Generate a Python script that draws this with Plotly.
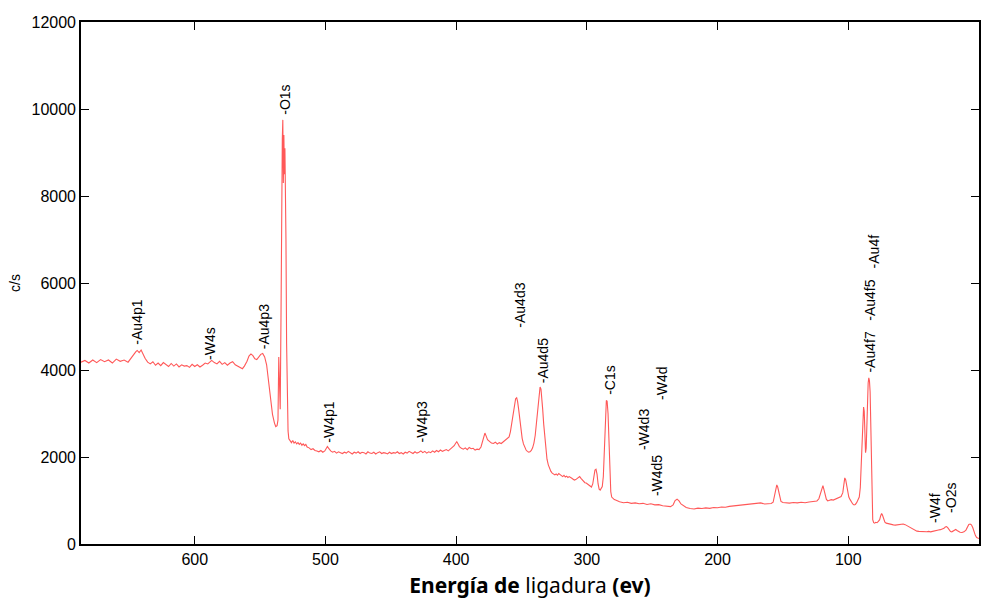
import plotly.graph_objects as go

# ---- Spectrum values, split in segments (binding energy eV / counts c/s) ----
be_a = [687, 684, 681, 678, 675, 672, 669, 666, 663, 660,
        657, 654, 651, 649, 647, 645, 644, 642.5, 641, 639.5,
        638, 636, 634, 632, 630, 628, 626, 624, 622, 620,
        618, 616, 614, 612, 610, 608, 606, 604, 602, 600]
cps_a = [4180, 4220, 4160, 4230, 4170, 4240, 4190, 4230, 4160, 4250,
         4200, 4230, 4180, 4270, 4360, 4420, 4450, 4400, 4460, 4350,
         4270, 4180, 4140, 4190, 4110, 4160, 4100, 4170, 4120, 4080,
         4150, 4090, 4140, 4070, 4120, 4090, 4100, 4060, 4130, 4080]

be_b = [598, 596, 594, 592, 590, 588.5, 587, 585, 583, 581,
        579, 577, 575, 573, 571, 569, 567, 565, 563.5, 562,
        560, 558.5, 557, 555.5, 554, 552.5, 551, 549.5, 548, 546.5,
        545, 543.5, 542, 540.5, 539, 538, 537, 536.3, 535.7, 535.1]
cps_b = [4120, 4070, 4110, 4160, 4140, 4190, 4220, 4170, 4140, 4200,
         4130, 4170, 4110, 4160, 4190, 4120, 4080, 4040, 4030, 4090,
         4200, 4320, 4370, 4330, 4260, 4240, 4300, 4360, 4380, 4300,
         4120, 3720, 3300, 2980, 2780, 2700, 2720, 2850, 4300, 3500]

be_c = [534.6, 534, 533.5, 533, 532.6, 532.2, 531.8, 531.4, 531, 530.6,
        530.2, 529.7, 529.2, 528.6, 528, 527, 526, 525, 524, 523,
        522, 521, 520]
cps_c = [3100, 5200, 8600, 9300, 9750, 8300, 9400, 8500, 9100, 8400,
         7000, 4600, 3100, 2600, 2420, 2360, 2330, 2380, 2320, 2350,
         2300, 2330, 2290]

be_d = [519, 518, 517, 516, 515, 514, 512.5, 511, 509.5, 508,
        506.5, 505, 503.5, 502, 500.5, 499.5, 498.5, 497.5, 496, 494.5,
        493, 491.5, 490, 488.5, 487, 485.5, 484, 482.5, 481, 479.5,
        478, 476.5, 475, 473.5, 472, 470.5, 469, 467.5, 466, 464.5,
        463, 461.5, 460, 458.5, 457, 455.5, 454, 452.5, 451, 449.5,
        448, 446.5, 445, 443.5, 442, 440.5, 439, 437.5, 436, 434.5,
        433, 431.5, 430, 428.5, 427, 425.5, 424, 422.5, 421, 419.5,
        418, 416.5, 415, 413.5, 412, 410.5, 409, 407.5, 406, 404.5,
        403, 401.5, 400.5]
cps_d = [2320, 2270, 2300, 2260, 2290, 2230, 2210, 2170, 2190, 2150,
         2140, 2120, 2150, 2110, 2140, 2180, 2240, 2200, 2140, 2110,
         2130, 2090, 2120, 2100, 2080, 2110, 2090, 2130, 2100, 2070,
         2110, 2090, 2120, 2080, 2110, 2100, 2070, 2120, 2090, 2080,
         2110, 2070, 2100, 2120, 2080, 2100, 2090, 2070, 2110, 2080,
         2100, 2090, 2120, 2080, 2100, 2070, 2110, 2090, 2130, 2100,
         2080, 2120, 2090, 2110, 2140, 2100, 2130, 2090, 2120, 2100,
         2140, 2110, 2150, 2120, 2160, 2130, 2150, 2170, 2140, 2180,
         2200, 2260, 2310]

be_e = [399.5, 398.5, 397.5, 396, 394.5, 393, 391.5, 390, 388.5, 387,
        385.5, 384, 382.5, 381, 380, 379, 378, 377, 376, 374.5,
        373, 371.5, 370, 368.5, 367, 365.5, 364, 362.5, 361, 359.5,
        358.5, 357.5, 356.5, 355.5, 354.5, 353.7, 353, 352.2, 351.4, 350.5,
        349.5, 348.5, 347.5, 346.5, 345.5, 344.5, 343.5, 342.5, 341.5, 340.5]
cps_e = [2350, 2300, 2240, 2200, 2180, 2210, 2170, 2220, 2190, 2200,
         2160, 2180, 2170, 2230, 2320, 2440, 2550, 2480, 2400, 2360,
         2320, 2310, 2340, 2300, 2330, 2310, 2350, 2380, 2420, 2460,
         2580, 2760, 3000, 3200, 3340, 3360, 3280, 3100, 2850, 2620,
         2430, 2300, 2220, 2160, 2130, 2110, 2120, 2150, 2210, 2320]

be_f = [339.5, 338.5, 337.5, 336.6, 335.8, 335.1, 334.5, 333.8, 333, 332.2,
        331.4, 330.5, 329.5, 328.5, 327.5, 326.5, 325.5, 324.5, 323.5, 322.5,
        321.5, 320.5, 319.5, 318.5, 317.5, 316.5, 315.5, 314.5, 313.5, 312.5,
        311.5, 310.5, 309.5, 308.5, 307.5, 306.5, 305.5, 304.5, 303.5, 302.5,
        301.5, 300.5, 299.5, 298.5, 297.5, 296.5, 295.5, 294.6, 293.8, 293,
        292.2, 291.4, 290.6, 289.8]
cps_f = [2500, 2800, 3150, 3450, 3610, 3560, 3380, 3100, 2750, 2420,
         2150, 1950, 1820, 1730, 1670, 1630, 1600, 1590, 1610, 1580,
         1620, 1600, 1560, 1550, 1580, 1540, 1560, 1530, 1550, 1520,
         1510, 1490, 1470, 1480, 1500, 1540, 1550, 1510, 1470, 1440,
         1410, 1400, 1380, 1350, 1320, 1310, 1380, 1550, 1700, 1720,
         1600, 1380, 1260, 1240]

be_g = [289, 288.2, 287.4, 286.6, 285.8, 285.1, 284.5, 283.8, 283.1, 282.4,
        281.7, 281, 280, 279, 278, 276.5]
cps_g = [1290, 1320, 1550, 2100, 2800, 3300, 3280, 3000, 2400, 1700,
         1200, 1080, 1040, 1020, 1010, 990]

be_h = [275, 272, 269, 266, 263, 260, 257, 254, 251, 248,
        245, 242, 239, 236, 234, 232.5, 231, 229.5, 228, 226,
        224, 221, 218, 215, 212, 209, 206, 203, 200, 197,
        194, 191, 188, 185, 182, 179, 176, 173, 170, 167,
        164, 161]
cps_h = [970, 950, 960, 935, 945, 925, 935, 910, 925, 900,
         905, 880, 870, 860, 900, 1000, 1030, 990, 920, 880,
         840, 815, 805, 825, 815, 830, 820, 840, 835, 850,
         845, 865, 875, 890, 905, 915, 925, 940, 935, 945,
         920, 920]

be_i = [159, 157.5, 156.5, 155.5, 154.7, 154, 153.2, 152.4, 151.5, 150,
        148, 145, 142, 139, 136, 133, 130, 127, 124, 122.5]
cps_i = [930, 960, 1120, 1290, 1360, 1310, 1180, 1040, 980, 955,
         950, 940, 955, 945, 960, 950, 965, 970, 990, 1040]

be_j = [121.3, 120.3, 119.4, 118.6, 117.7, 116.8, 115.8, 114.5, 113, 111.5,
        110, 108.5, 107, 105.5]
cps_j = [1180, 1300, 1340, 1250, 1120, 1030, 990, 1000, 1020, 1010,
         1030, 1040, 1060, 1090]

be_k = [104.2, 103.4, 102.7, 102, 101.3, 100.5, 99.6, 98.6, 97.6, 96.6,
        95.6, 94.6, 93.6, 92.6, 91.6]
cps_k = [1180, 1420, 1520, 1480, 1380, 1200, 1080, 1020, 960, 920,
         900, 910, 950, 1000, 1080]

be_l = [90.8, 90.1, 89.5, 88.9, 88.3, 87.8, 87.3, 86.8, 86.3, 85.8,
        85.3, 84.8, 84.3, 83.8, 83.3, 82.8, 82.3, 81.8, 81.3, 80.6,
        79.8, 79, 78, 77, 76]
cps_l = [1300, 1900, 2600, 3050, 3150, 3050, 2500, 2100, 2200, 2900,
         3500, 3700, 3820, 3750, 3500, 2800, 1800, 900, 560, 490,
         480, 500, 490, 520, 560]

be_m = [75.2, 74.5, 73.8, 73, 72, 71, 70, 68.5, 67, 65.5,
        64, 62.5, 61, 59.5, 58, 56.5, 55, 53.5, 52, 50.5,
        49, 47.5, 46, 44.5, 43, 41.5, 40, 38.5, 37, 35.5,
        34, 32.5, 31, 29.5, 28, 26.8, 25.8, 24.8, 23.8, 22.8,
        21.8, 20.8, 19.8, 18.8, 17.8, 16.8, 15.8, 14.5, 13, 11.5,
        10, 8.8, 7.8, 6.8, 5.8, 4.8, 3.8, 2.8, 1.8, 0.8,
        0]
cps_m = [650, 700, 660, 580, 500, 480, 470, 455, 445, 440,
         435, 440, 450, 465, 460, 445, 420, 395, 370, 340,
         310, 295, 290, 285, 280, 285, 280, 290, 280, 290,
         295, 310, 320, 330, 340, 360, 390, 400, 370, 320,
         285, 280, 300, 320, 335, 310, 285, 270, 265, 280,
         320, 400, 450, 460, 440, 380, 280, 200, 150, 130,
         125]

be_segments = [be_a, be_b, be_c, be_d, be_e, be_f, be_g, be_h, be_i, be_j, be_k, be_l, be_m]
cps_segments = [cps_a, cps_b, cps_c, cps_d, cps_e, cps_f, cps_g, cps_h, cps_i, cps_j, cps_k, cps_l, cps_m]

binding_energy, counts = [], []
for be_seg, cps_seg in zip(be_segments, cps_segments):
    assert len(be_seg) == len(cps_seg), (len(be_seg), len(cps_seg), be_seg[0])
    binding_energy += be_seg
    counts += cps_seg

# Peak labels and where their base sits (binding energy, counts)
peak_labels = ["-Au4p1", "-W4s", "-Au4p3", "-O1s", "-W4p1", "-W4p3", "-Au4d3", "-Au4d5", "-C1s",
               "-W4d3", "-W4d", "-W4d5", "-Au4f", "-Au4f5", "-Au4f7", "-W4f", "-O2s"]
label_x = [644, 588.5, 547, 531, 497, 426, 351, 333.6, 282.4, 255.7, 242, 245.8, 80, 84, 83.2, 33.6, 21.4]
label_y = [4530, 4190, 4420, 9820, 2280, 2280, 4920, 3660, 3380, 2120, 3270, 1060, 6300, 5080, 3890, 440, 670]

x_ticks = [600, 500, 400, 300, 200, 100, 0]
y_ticks = [0, 2000, 4000, 6000, 8000, 10000, 12000]

fig = go.Figure()
fig.add_trace(go.Scatter(
    x=binding_energy, y=counts, mode="lines",
    line=dict(color="rgb(255,88,88)", width=1.1),
    showlegend=False, hoverinfo="skip",
))

for txt, xv, yv in zip(peak_labels, label_x, label_y):
    fig.add_annotation(
        x=xv, y=yv, text=txt, textangle=-90, showarrow=False,
        xanchor="center", yanchor="bottom",
        font=dict(family="Liberation Sans, Arial", size=14, color="black"),
    )

axis_common = dict(
    showline=True, linecolor="black", linewidth=1.6, mirror="ticks",
    ticks="inside", ticklen=8, tickwidth=1.3, tickcolor="black",
    showgrid=False, zeroline=False,
    tickfont=dict(family="Liberation Sans, Arial", size=16, color="black"),
)

fig.update_xaxes(
    range=[687, 0], tickvals=x_ticks, ticktext=[str(v) for v in x_ticks],
    title=dict(text="<b>Energía de</b> ligadura <b>(ev)</b>",
               font=dict(family="Noto Sans", size=21, color="black"), standoff=11),
    **axis_common,
)
fig.update_yaxes(
    range=[0, 12000], tickvals=y_ticks, ticktext=[str(v) for v in y_ticks],
    title=dict(text="c/s", font=dict(family="Liberation Sans, Arial", size=14, color="black"), standoff=8),
    **axis_common,
)

fig.update_layout(
    width=981, height=601,
    margin=dict(l=81, r=0, t=22, b=57),
    paper_bgcolor="white", plot_bgcolor="white",
)

fig.write_html("out.html")
